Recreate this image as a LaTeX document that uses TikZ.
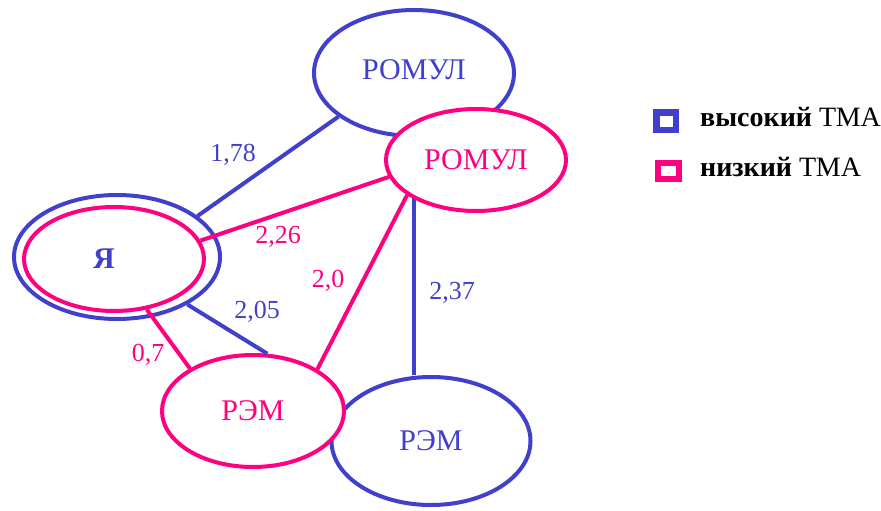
\documentclass[tikz,border=0pt]{standalone}
\usepackage{fontspec}
\setmainfont{Liberation Serif}
\usetikzlibrary{shapes.geometric,backgrounds}
\definecolor{bl}{RGB}{64,64,204}
\definecolor{pk}{RGB}{255,0,128}
\begin{document}
\begin{tikzpicture}[x=1pt,y=-1pt,
  ell/.style={ellipse, line width=4pt, inner sep=0pt, fill=white, font=\fontsize{30}{30}\selectfont},
  bnode/.style={ell, draw=bl, text=bl},
  pnode/.style={ell, draw=pk, text=pk},
  bline/.style={draw=bl, line width=4pt},
  pline/.style={draw=pk, line width=4pt},
  blbl/.style={text=bl, font=\fontsize{26}{26}\selectfont, inner sep=0pt},
  plbl/.style={text=pk, font=\fontsize{26}{26}\selectfont, inner sep=0pt},
  legtxt/.style={font=\fontsize{28}{28}\selectfont, anchor=west, inner sep=0pt},
  legbox/.style={inner sep=0pt}
]
\useasboundingbox (0,0) rectangle (881,511);
\node[bnode, minimum width=200pt, minimum height=126pt] (bromul) at (414,73) {\raisebox{6pt}{РОМУЛ}};
\node[pnode, minimum width=180pt, minimum height=102pt] (prom) at (476,160) {РОМУЛ};
\node[bnode, minimum width=199pt, minimum height=128pt] (brem) at (431,441) {РЭМ};
\node[pnode, minimum width=182pt, minimum height=112pt] (prem) at (253,411) {РЭМ};
\node[ell, draw=bl, fill=none, minimum width=206pt, minimum height=124pt] (yout) at (117,257) {};
\node[pnode, text=bl, minimum width=180pt, minimum height=104pt] (yin) at (114,259) {\bfseries Я\kern20pt};
\begin{pgfonlayer}{background}
\draw[bline] (bromul.south) -- (bromul.south |- brem.north);
\end{pgfonlayer}
\draw[bline] (yout.27) -- (bromul.210);
\draw[bline] (yout.326) -- (prem.76);
\draw[pline] (yin.12) -- (prom.191);
\draw[pline] (prom.207) -- (prem.33);
\draw[pline] (yin.303) -- (prem.146);
\node[blbl] (l178) at (233,155) {1,78};
\node[plbl] (l226) at (278,237) {2,26};
\node[plbl] (l20) at (328,281) {2,0};
\node[blbl] (l205) at (257,312) {2,05};
\node[blbl] (l237) at (452,293) {2,37};
\node[plbl] (l07) at (148,355) {0,7};
\node[legbox, draw=bl, line width=6.5pt, minimum width=19.5pt, minimum height=17.5pt] (legb) at (666,121) {};
\node[legbox, draw=pk, line width=6pt, minimum width=21pt, minimum height=16pt] (legp) at (668.5,171) {};
\node[legtxt] (legbt) at (700,117) {\textbf{высокий} ТМА};
\node[legtxt] (legpt) at (700,167) {\textbf{низкий} ТМА};
\end{tikzpicture}
\end{document}
